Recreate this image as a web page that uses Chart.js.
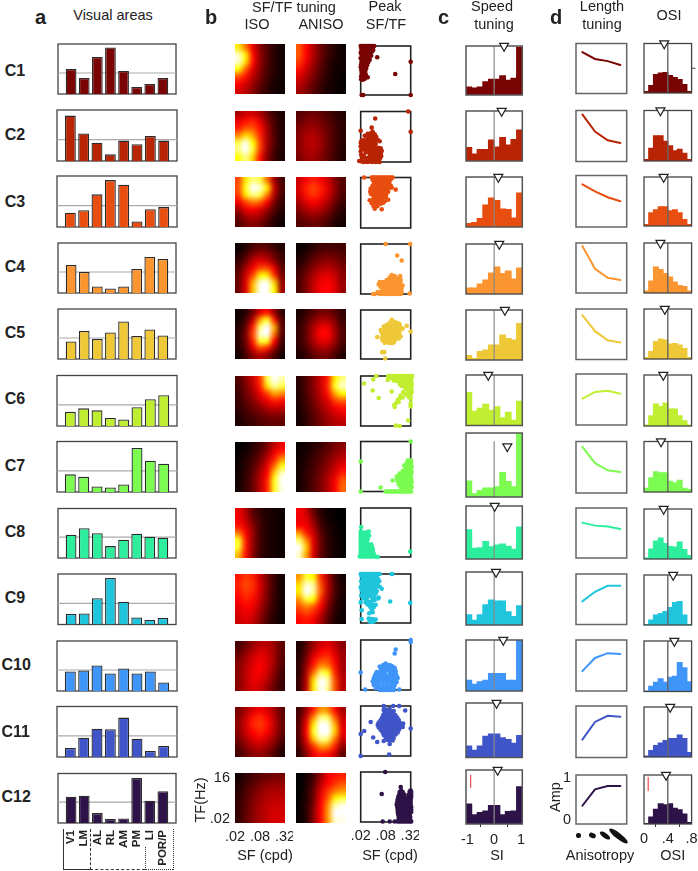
<!DOCTYPE html>
<html>
<head>
<meta charset="utf-8">
<title>Clusters</title>
<script src="https://cdn.jsdelivr.net/npm/chart.js@4/dist/chart.umd.min.js"></script>
<style>
html, body { margin: 0; padding: 0; background: #fff; }
#page { position: relative; width: 698px; height: 871px; overflow: hidden; font-family: "Liberation Sans", Arial, sans-serif; color: #222; }
#page canvas { position: absolute; }
.txt { position: absolute; white-space: nowrap; transform: translate(-50%, -50%); }
.mark { position: absolute; box-sizing: border-box; }
</style>
</head>
<body>
<div id="page"></div>
<script>
// ---- data ----
var clusterNames = ['C1','C2','C3','C4','C5','C6','C7','C8','C9','C10','C11','C12'];
var clusterColors = ['#7a0404','#b82404','#e84e10','#fb9530','#efc838','#c0ee30','#7cfb50','#2cee9c','#1fc5dc','#3f95f8','#4055c8','#2e1348'];

// a: share per visual area
var areaLabels = ['V1','LM','AL','RL','AM','PM','LI','POR/P'];
var areaMean = 0.42;
var areaC1 = [.50,.32,.74,.93,.46,.14,.20,.32];
var areaC2 = [.89,.54,.36,.13,.40,.33,.49,.40];
var areaC3 = [.28,.33,.64,.92,.83,.11,.35,.39];
var areaC4 = [.56,.42,.13,.09,.13,.48,.72,.68];
var areaC5 = [.35,.56,.40,.53,.75,.46,.59,.47];
var areaC6 = [.28,.35,.31,.16,.13,.37,.53,.61];
var areaC7 = [.35,.30,.11,.09,.15,.87,.62,.56];
var areaC8 = [.47,.60,.50,.24,.37,.49,.43,.41];
var areaC9 = [.21,.22,.52,.92,.45,.14,.09,.13];
var areaC10 = [.39,.41,.51,.35,.45,.35,.39,.17];
var areaC11 = [.18,.38,.56,.55,.78,.36,.12,.22];
var areaC12 = [.53,.55,.20,.08,.09,.91,.45,.64];
var areaValues = [areaC1,areaC2,areaC3,areaC4,areaC5,areaC6,areaC7,areaC8,areaC9,areaC10,areaC11,areaC12];

// b: SF/TF response grids (rows top to bottom), 0..1 on the hot colour map
var isoC1 = [[.72,.55,.35,.2,.12,.06,.03],[.95,.72,.4,.22,.12,.06,.03],[.95,.7,.4,.22,.12,.06,.03],[.75,.52,.33,.2,.11,.06,.03],[.5,.4,.28,.18,.1,.05,.03],[.38,.32,.23,.15,.08,.04,.02],[.32,.27,.2,.12,.07,.03,.02]];
var anisoC1 = [[.5,.38,.26,.16,.1,.05,.02],[.5,.38,.26,.16,.09,.05,.02],[.46,.35,.24,.15,.08,.04,.02],[.4,.3,.21,.13,.07,.03,.02],[.33,.26,.18,.11,.06,.03,.01],[.28,.22,.15,.09,.05,.02,.01],[.24,.19,.13,.08,.04,.02,.01]];
var isoC2 = [[.25,.3,.3,.25,.16,.08,.04],[.35,.4,.42,.34,.2,.1,.05],[.42,.5,.5,.4,.24,.11,.05],[.58,.7,.62,.43,.25,.12,.05],[.82,.98,.75,.47,.25,.12,.05],[.88,1,.8,.47,.23,.1,.05],[.76,.88,.68,.4,.2,.09,.04]];
var anisoC2 = [[.12,.15,.16,.14,.11,.08,.05],[.15,.19,.2,.17,.13,.09,.06],[.18,.22,.23,.2,.15,.1,.06],[.2,.25,.26,.22,.16,.1,.06],[.2,.26,.27,.23,.16,.1,.06],[.2,.25,.26,.22,.15,.1,.05],[.18,.23,.24,.2,.14,.09,.05]];
var isoC3 = [[.48,.72,.88,.82,.55,.24,.1],[.5,.78,1,.95,.72,.3,.12],[.46,.72,.88,.82,.56,.26,.1],[.36,.48,.56,.52,.38,.18,.08],[.24,.35,.38,.33,.24,.13,.06],[.16,.24,.27,.24,.16,.08,.04],[.12,.17,.2,.17,.11,.05,.02]];
var anisoC3 = [[.3,.38,.42,.38,.3,.2,.12],[.32,.42,.47,.42,.33,.22,.13],[.3,.4,.45,.4,.31,.2,.11],[.25,.33,.37,.33,.26,.16,.09],[.2,.26,.29,.26,.2,.12,.06],[.15,.19,.21,.19,.14,.08,.04],[.12,.14,.16,.14,.1,.05,.03]];
var isoC4 = [[.02,.05,.1,.13,.12,.08,.05],[.04,.1,.18,.22,.2,.14,.08],[.08,.16,.28,.33,.3,.2,.1],[.12,.24,.36,.48,.48,.34,.14],[.15,.3,.48,.72,.72,.45,.18],[.16,.33,.62,.95,.98,.68,.22],[.16,.33,.66,.98,1,.75,.24]];
var anisoC4 = [[.01,.03,.06,.09,.1,.1,.09],[.03,.06,.1,.14,.15,.14,.12],[.05,.09,.15,.19,.21,.19,.15],[.08,.13,.2,.25,.27,.24,.18],[.1,.17,.25,.31,.33,.29,.2],[.11,.19,.28,.35,.37,.32,.22],[.11,.19,.29,.36,.38,.33,.23]];
var isoC5 = [[.02,.06,.16,.32,.4,.22,.07],[.03,.1,.28,.6,.78,.42,.12],[.05,.15,.42,.85,1,.62,.14],[.06,.18,.48,.95,1,.55,.13],[.06,.17,.42,.8,.78,.38,.1],[.05,.14,.32,.48,.42,.22,.07],[.03,.1,.2,.26,.2,.11,.03]];
var anisoC5 = [[.04,.08,.13,.17,.17,.13,.07],[.06,.11,.19,.25,.25,.18,.09],[.07,.14,.25,.34,.34,.23,.11],[.08,.15,.27,.38,.38,.25,.12],[.08,.14,.25,.33,.33,.23,.11],[.06,.11,.19,.25,.24,.17,.08],[.04,.08,.13,.17,.16,.11,.05]];
var isoC6 = [[.12,.2,.3,.45,.82,1,.92],[.1,.18,.27,.42,.7,.9,.82],[.09,.16,.24,.35,.48,.62,.58],[.08,.14,.2,.28,.36,.42,.4],[.07,.11,.16,.2,.26,.3,.28],[.05,.09,.12,.15,.18,.2,.19],[.04,.07,.09,.12,.14,.15,.14]];
var anisoC6 = [[.06,.12,.2,.3,.42,.72,.88],[.06,.12,.2,.3,.44,.78,.95],[.05,.11,.19,.28,.4,.62,.75],[.05,.1,.17,.25,.33,.47,.52],[.04,.09,.15,.22,.29,.36,.4],[.03,.08,.13,.19,.25,.3,.33],[.03,.07,.12,.17,.22,.26,.28]];
var isoC7 = [[0,.02,.05,.1,.17,.27,.35],[.01,.03,.07,.13,.22,.35,.42],[.02,.05,.1,.17,.28,.42,.6],[.02,.06,.12,.21,.34,.55,.78],[.03,.07,.14,.25,.38,.68,.95],[.03,.08,.15,.27,.42,.78,1],[.03,.08,.15,.27,.42,.78,.98]];
var anisoC7 = [[.01,.03,.05,.08,.12,.17,.2],[.02,.04,.07,.11,.15,.2,.24],[.02,.05,.09,.13,.18,.24,.29],[.03,.06,.1,.15,.21,.28,.35],[.03,.07,.11,.17,.24,.32,.42],[.03,.07,.12,.18,.26,.36,.5],[.03,.07,.12,.18,.26,.37,.52]];
var isoC8 = [[.35,.26,.13,.07,.04,.03,.02],[.36,.28,.16,.09,.05,.03,.02],[.4,.33,.2,.1,.05,.03,.02],[.55,.38,.22,.1,.05,.03,.02],[.78,.42,.22,.1,.05,.03,.02],[.8,.42,.22,.1,.05,.03,.02],[.65,.4,.2,.09,.05,.03,.02]];
var anisoC8 = [[.37,.3,.15,.06,.02,.01,0],[.35,.33,.2,.08,.03,.01,0],[.38,.36,.25,.11,.05,.02,0],[.6,.42,.3,.14,.06,.02,.01],[.85,.58,.33,.16,.07,.03,.01],[1,.68,.33,.16,.07,.03,.01],[.95,.62,.32,.15,.07,.03,.01]];
var isoC9 = [[.4,.46,.42,.3,.18,.08,.03],[.42,.48,.44,.32,.19,.09,.03],[.4,.46,.42,.31,.18,.08,.03],[.37,.42,.39,.29,.17,.08,.03],[.34,.38,.35,.26,.15,.07,.03],[.32,.35,.32,.23,.13,.06,.02],[.3,.32,.29,.2,.11,.05,.02]];
var anisoC9 = [[.6,.8,.75,.45,.26,.1,.03],[.7,.95,.9,.5,.28,.11,.04],[.72,1,.9,.52,.27,.11,.04],[.6,.82,.75,.45,.24,.1,.03],[.5,.58,.52,.38,.2,.08,.03],[.42,.47,.42,.3,.16,.06,.02],[.38,.4,.36,.25,.13,.05,.02]];
var isoC10 = [[.1,.15,.22,.26,.27,.22,.14],[.14,.2,.27,.32,.3,.23,.14],[.18,.24,.31,.35,.32,.24,.13],[.2,.26,.33,.37,.32,.22,.12],[.2,.27,.35,.36,.3,.2,.1],[.2,.28,.34,.33,.27,.17,.09],[.2,.27,.32,.3,.23,.15,.08]];
var anisoC10 = [[.04,.12,.22,.3,.33,.28,.2],[.05,.14,.28,.37,.4,.32,.22],[.06,.18,.35,.45,.47,.36,.24],[.07,.22,.42,.58,.56,.4,.24],[.07,.25,.55,.85,.78,.44,.26],[.08,.27,.7,1,.92,.5,.27],[.08,.28,.72,1,.9,.5,.27]];
var isoC11 = [[.18,.25,.32,.36,.32,.24,.14],[.2,.29,.4,.44,.38,.27,.15],[.21,.31,.42,.46,.4,.28,.16],[.2,.3,.38,.42,.37,.26,.15],[.17,.25,.32,.35,.3,.22,.12],[.13,.2,.26,.28,.24,.17,.08],[.1,.15,.2,.22,.18,.12,.05]];
var anisoC11 = [[.1,.24,.42,.6,.58,.4,.25],[.12,.3,.58,.88,.85,.52,.3],[.13,.35,.72,1,.98,.65,.33],[.13,.38,.78,1,1,.68,.35],[.12,.33,.65,.9,.85,.55,.3],[.1,.27,.45,.6,.58,.42,.22],[.07,.2,.35,.42,.4,.3,.14]];
var isoC12 = [[.03,.07,.1,.13,.15,.17,.18],[.05,.09,.13,.17,.2,.22,.22],[.06,.11,.16,.2,.24,.25,.25],[.07,.12,.18,.23,.26,.28,.28],[.08,.13,.19,.24,.28,.3,.3],[.08,.14,.2,.25,.29,.31,.31],[.08,.14,.2,.25,.29,.32,.32]];
var anisoC12 = [[0,.03,.1,.22,.35,.4,.42],[0,.04,.12,.27,.38,.45,.5],[0,.05,.15,.32,.45,.55,.6],[0,.05,.16,.35,.5,.72,.8],[.01,.06,.18,.37,.58,.9,.98],[.01,.06,.2,.38,.6,1,1],[.01,.06,.2,.38,.6,.95,.98]];
var isoGrids = [isoC1,isoC2,isoC3,isoC4,isoC5,isoC6,isoC7,isoC8,isoC9,isoC10,isoC11,isoC12];
var anisoGrids = [anisoC1,anisoC2,anisoC3,anisoC4,anisoC5,anisoC6,anisoC7,anisoC8,anisoC9,anisoC10,anisoC11,anisoC12];
var sfTickLabels = ['.02','.08','.32'];
var tfTickLabels = ['.02','16'];

// b: peak SF/TF per unit, percent of the log axis
var peakC1 = [[0,100],[3,100],[6,100],[9,100],[12,100],[15,100],[18,100],[21,100],[24,100],[27,100],[1,96],[5,95],[9,96],[13,94],[17,95],[20,96],[25,92],[2,91],[7,90],[11,89],[15,90],[19,88],[23,89],[0,86],[4,85],[9,84],[14,85],[18,83],[2,80],[6,79],[11,78],[16,79],[21,80],[33,77],[0,75],[4,74],[8,73],[13,72],[18,72],[2,69],[6,68],[10,66],[15,67],[1,63],[5,62],[9,61],[13,61],[0,57],[4,56],[8,55],[11,54],[1,51],[5,50],[9,48],[2,45],[6,43],[10,42],[1,38],[5,37],[9,38],[14,36],[1,32],[4,31],[8,33],[69,43],[100,68],[2,0],[5,0],[100,0]];
var peakC2 = [[29,86],[95,100],[100,60],[0,62],[22,68],[24,60],[20,57],[28,55],[14,56],[8,52],[18,52],[25,51],[31,50],[14,48],[21,47],[27,46],[38,41],[2,43],[7,43],[12,42],[17,42],[23,42],[29,41],[34,44],[0,38],[5,37],[10,37],[15,36],[20,37],[25,36],[30,36],[0,31],[6,32],[12,31],[18,30],[24,31],[29,30],[35,28],[40,27],[2,26],[8,25],[14,26],[20,25],[26,24],[32,24],[38,23],[42,22],[0,21],[10,19],[16,20],[22,19],[28,19],[34,18],[40,18],[1,14],[6,13],[18,14],[24,13],[30,14],[36,13],[41,12],[3,8],[10,8],[16,8],[22,7],[28,8],[34,7],[39,8],[-3,2],[2,1],[6,0],[10,1],[14,0],[18,2],[22,0],[26,1],[30,0],[34,1],[38,0]];
var peakC3 = [[7,100],[22,100],[25,100],[28,100],[31,100],[34,100],[37,100],[40,100],[43,100],[46,100],[49,100],[52,100],[55,100],[58,100],[61,100],[64,100],[24,95],[30,94],[36,95],[42,94],[48,95],[54,94],[60,96],[27,90],[33,89],[39,90],[45,88],[51,89],[57,90],[24,84],[30,84],[36,84],[42,83],[48,84],[54,84],[60,84],[20,78],[26,78],[32,78],[38,78],[44,78],[50,78],[56,79],[62,80],[70,76],[19,72],[25,72],[31,72],[37,72],[43,72],[49,72],[55,72],[21,67],[27,66],[33,66],[39,66],[45,66],[51,66],[26,60],[32,60],[38,60],[44,60],[50,61],[18,55],[24,55],[30,54],[36,54],[42,55],[48,53],[55,56],[22,49],[28,49],[34,48],[40,48],[45,50],[26,43],[33,43],[28,38],[42,37]];
var peakC4 = [[50,100],[99,100],[73,77],[82,67],[62,38],[68,36],[79,36],[58,33],[64,32],[70,33],[76,31],[52,28],[56,28],[62,27],[68,27],[74,27],[80,28],[38,24],[44,24],[50,24],[56,23],[62,22],[68,23],[74,22],[79,23],[36,19],[42,19],[48,18],[54,18],[60,18],[66,18],[72,18],[78,18],[84,17],[40,14],[46,13],[52,13],[58,13],[64,13],[70,13],[76,13],[82,12],[44,8],[50,8],[56,8],[62,8],[68,8],[74,8],[80,9],[34,4],[40,4],[46,3],[52,3],[58,3],[64,3],[70,4],[76,4],[82,4],[28,0],[25,0],[38,0],[44,0],[50,0],[56,0],[62,0],[68,0],[74,0],[80,0],[98,1]];
var peakC5 = [[49,1],[43,14],[47,14],[92,68],[100,56],[33,45],[62,80],[67,76],[58,74],[72,74],[77,72],[52,70],[60,69],[66,69],[72,68],[78,69],[46,66],[54,64],[60,64],[66,63],[72,63],[78,64],[84,62],[40,59],[48,59],[54,58],[60,58],[66,58],[72,58],[78,57],[42,54],[48,53],[54,53],[60,53],[66,53],[72,52],[77,52],[44,48],[50,48],[56,48],[62,48],[68,48],[74,47],[80,46],[42,43],[48,43],[54,43],[60,42],[66,43],[72,43],[76,42],[44,38],[50,38],[56,37],[62,37],[68,38],[48,33],[56,33],[62,32],[66,34]];
var peakC6 = [[7,85],[25,93],[31,100],[24,71],[36,56],[62,69],[67,42],[68,38],[70,1],[78,0],[95,11],[100,42],[100,46],[100,39],[55,100],[58,100],[61,100],[64,100],[67,100],[70,100],[73,100],[76,100],[79,100],[82,100],[85,100],[88,100],[91,100],[94,100],[97,100],[100,100],[103,100],[55,95],[62,96],[70,95],[78,96],[84,94],[90,96],[96,95],[101,95],[54,92],[66,91],[72,90],[76,90],[82,89],[88,90],[95,90],[101,90],[78,84],[86,85],[92,85],[97,84],[102,85],[82,80],[88,79],[93,79],[98,79],[102,80],[90,74],[96,73],[101,74],[85,68],[90,63],[80,61],[84,57],[78,56],[74,52],[96,58],[100,55],[71,46],[76,48],[102,68],[100,62],[95,67]];
var peakC7 = [[100,100],[0,60],[0,0],[40,8],[64,22],[94,62],[98,62],[101,62],[92,57],[97,56],[101,56],[87,52],[93,51],[98,51],[102,50],[90,46],[95,45],[100,45],[84,41],[88,41],[94,40],[99,40],[102,40],[78,36],[84,35],[90,35],[96,35],[101,35],[72,30],[76,30],[82,30],[88,30],[94,30],[100,30],[73,25],[78,24],[84,25],[90,25],[96,25],[101,25],[74,20],[80,19],[86,20],[92,19],[98,20],[102,19],[76,14],[82,14],[88,14],[94,14],[100,14],[80,9],[86,9],[92,9],[98,9],[102,9],[86,4],[92,4],[98,4],[50,0],[53,0],[56,0],[59,0],[62,0],[65,0],[68,0],[71,0],[74,0],[77,0],[80,0],[83,0],[86,0],[89,0],[92,0],[95,0],[98,0],[101,0]];
var peakC8 = [[1,61],[99,11],[0,52],[5,50],[11,50],[16,52],[0,47],[4,46],[9,46],[14,46],[17,44],[0,42],[4,42],[8,41],[13,41],[0,37],[4,37],[9,36],[14,36],[0,32],[4,32],[8,31],[12,32],[0,27],[5,27],[10,26],[15,26],[21,26],[0,22],[5,22],[10,21],[15,21],[22,22],[0,17],[5,17],[10,17],[15,16],[20,17],[24,17],[0,12],[5,12],[10,12],[15,12],[20,12],[24,12],[0,7],[5,7],[10,7],[15,7],[20,7],[26,7],[-2,1],[2,1],[6,1],[10,1],[14,1],[18,1],[22,1],[26,1],[30,1],[34,0]];
var peakC9 = [[62,100],[63,100],[99,41],[59,44],[0,100],[3,100],[6,100],[9,100],[12,100],[15,100],[18,100],[21,100],[24,100],[27,100],[30,100],[33,100],[38,100],[2,95],[8,95],[14,94],[20,95],[26,94],[32,95],[5,90],[11,90],[17,90],[23,89],[29,90],[35,89],[1,85],[7,85],[13,84],[19,84],[25,85],[31,84],[37,85],[3,79],[9,79],[15,79],[21,78],[27,79],[33,78],[0,73],[6,73],[12,73],[18,73],[24,72],[30,73],[38,74],[42,70],[2,67],[8,67],[14,67],[20,66],[26,67],[32,65],[4,61],[10,61],[16,60],[22,60],[30,60],[35,50],[1,56],[7,55],[13,54],[20,54],[27,54],[36,52],[5,50],[12,48],[24,48],[28,47],[0,42],[10,42],[18,43],[21,41],[14,38],[24,37],[30,37],[19,33],[26,32],[2,26],[22,27],[17,20],[24,22],[2,8],[16,9],[20,8],[24,8],[18,3],[22,2],[26,3],[30,7]];
var peakC10 = [[100,96],[100,100],[70,81],[68,73],[0,35],[9,1],[77,1],[50,53],[45,50],[52,49],[58,50],[62,48],[66,45],[30,32],[38,47],[44,45],[50,44],[56,44],[62,44],[68,44],[32,36],[40,40],[46,40],[52,39],[58,40],[64,39],[70,38],[28,28],[36,34],[42,34],[48,34],[58,34],[64,33],[70,33],[26,23],[34,28],[40,28],[46,28],[52,28],[60,28],[66,28],[72,28],[30,22],[36,22],[42,22],[50,22],[56,22],[62,22],[68,22],[74,24],[24,17],[30,16],[36,16],[44,17],[52,16],[60,16],[66,16],[72,16],[26,10],[32,10],[38,10],[46,10],[54,10],[62,10],[68,10],[30,4],[36,4],[42,3],[48,4],[54,3],[60,4],[66,4],[38,0],[42,0],[46,0],[50,0],[54,0],[58,0],[62,0],[66,0]];
var peakC11 = [[0,0],[57,3],[58,24],[25,37],[33,28],[46,30],[0,44],[7,50],[20,68],[100,55],[89,91],[77,100],[65,100],[46,100],[85,65],[46,92],[52,93],[58,94],[48,87],[54,88],[60,88],[66,90],[45,82],[51,82],[57,83],[63,83],[69,82],[43,77],[49,77],[55,77],[61,77],[67,77],[73,77],[40,72],[46,72],[52,72],[58,72],[64,72],[70,72],[76,72],[36,67],[42,67],[48,67],[54,67],[60,67],[66,67],[72,67],[78,67],[34,62],[40,62],[46,62],[52,62],[58,62],[64,61],[70,62],[76,62],[82,60],[36,57],[42,57],[48,57],[54,57],[60,57],[66,57],[72,57],[78,56],[84,58],[40,52],[46,52],[52,52],[58,52],[64,52],[70,52],[76,52],[44,47],[50,47],[56,47],[62,47],[68,47],[74,47],[46,42],[52,42],[58,42],[64,42],[70,43],[50,37],[56,37],[62,37],[66,36],[54,32],[60,32],[64,31]];
var peakC12 = [[49,100],[42,56],[44,1],[58,1],[68,1],[80,70],[100,63],[81,63],[78,60],[84,60],[98,61],[101,60],[77,55],[82,55],[87,55],[96,55],[101,55],[75,50],[80,50],[85,50],[90,49],[96,50],[101,50],[74,45],[79,45],[84,45],[89,44],[95,45],[100,45],[73,40],[78,40],[83,40],[88,40],[94,40],[100,40],[72,35],[77,35],[82,35],[88,35],[94,35],[100,35],[73,30],[78,30],[83,30],[89,30],[95,30],[101,30],[74,25],[79,25],[84,25],[90,25],[96,25],[101,25],[74,20],[79,20],[85,20],[91,20],[97,20],[101,20],[75,15],[80,15],[86,15],[92,15],[98,15],[76,10],[81,10],[87,10],[93,10],[99,10],[76,5],[81,5],[87,5],[93,5],[99,5],[74,1],[78,1],[82,1],[86,1],[90,1],[94,1],[98,1],[101,1]];
var peakValues = [peakC1,peakC2,peakC3,peakC4,peakC5,peakC6,peakC7,peakC8,peakC9,peakC10,peakC11,peakC12];

// c: speed tuning histograms
var speedBins = [-.945,-.735,-.525,-.315,-.105,.105,.315,.525,.735,.945];
var speedTicks = [-1,0,1];
var speedC1 = [.16,.14,.16,.27,.32,.32,.39,.30,.34,.97];
var speedC2 = [.27,.14,.23,.23,.42,.28,.47,.32,.43,.62];
var speedC3 = [.07,.09,.17,.44,.58,.53,.36,.35,.18,.68];
var speedC4 = [.12,.12,.20,.28,.42,.54,.41,.46,.30,.52];
var speedC5 = [.09,.03,.17,.20,.30,.30,.50,.43,.40,.73];
var speedC6 = [.65,.28,.34,.42,.30,.37,.15,.26,.10,.48];
var speedC7 = [.25,.05,.10,.14,.14,.16,.38,.24,.16,1.0];
var speedC8 = [.55,.20,.21,.33,.23,.26,.28,.24,.18,.60];
var speedC9 = [.19,.09,.19,.38,.47,.45,.45,.25,.16,.36];
var speedC10 = [.21,.13,.18,.21,.34,.34,.34,.21,.21,1.0];
var speedC11 = [.21,.13,.21,.39,.43,.43,.36,.33,.26,.40];
var speedC12 = [.37,.17,.21,.24,.34,.34,.17,.23,.24,.69];
var speedValues = [speedC1,speedC2,speedC3,speedC4,speedC5,speedC6,speedC7,speedC8,speedC9,speedC10,speedC11,speedC12];
var speedMean = [.37,.28,.155,.19,.40,-.22,.49,.02,.07,.34,.09,.13];
var speedMeanLevel = [1,1,1,1,1,1,.79,1,1,1,1,1];
var speedZeroTop = [1,1,1,1,1,1,.87,1,1,1,1,1];
var speedScaleBarX = -.875, speedScaleBarY = [.67,.91];

// d: length tuning, amplitude at four anisotropy levels
var anisotropyLevels = ['1','2','3','4'];
var ampC1 = [.87,.71,.66,.57];
var ampC2 = [.98,.59,.39,.33];
var ampC3 = [.87,.71,.58,.49];
var ampC4 = [1.0,.47,.26,.21];
var ampC5 = [.93,.56,.35,.30];
var ampC6 = [.51,.66,.69,.62];
var ampC7 = [.95,.58,.42,.38];
var ampC8 = [.73,.66,.64,.58];
var ampC9 = [.44,.66,.80,.80];
var ampC10 = [.36,.66,.77,.75];
var ampC11 = [.31,.71,.85,.83];
var ampC12 = [.34,.73,.81,.81];
var ampValues = [ampC1,ampC2,ampC3,ampC4,ampC5,ampC6,ampC7,ampC8,ampC9,ampC10,ampC11,ampC12];
var ampTicks = [0,1];

// d: OSI histograms
var osiBins = [.04,.12,.20,.28,.36,.44,.52,.60,.68,.76];
var osiTicks = [0,.4,.8];
var osiTickLabels = ['0','.4','.8'];
var osiC1 = [.03,.15,.37,.40,.41,.35,.31,.27,.17,.03];
var osiC2 = [.03,.25,.50,.50,.39,.30,.20,.23,.15,.03];
var osiC3 = [.03,.27,.33,.39,.39,.31,.33,.27,.13,.03];
var osiC4 = [.04,.24,.52,.47,.39,.32,.22,.15,.13,.04];
var osiC5 = [.03,.15,.35,.40,.38,.30,.31,.28,.21,.03];
var osiC6 = [.02,.20,.43,.38,.45,.33,.33,.20,.10,.02];
var osiC7 = [.07,.28,.40,.38,.38,.21,.18,.23,.07,.05];
var osiC8 = [.02,.20,.36,.42,.31,.25,.24,.34,.19,.07];
var osiC9 = [.01,.10,.20,.23,.27,.35,.45,.47,.20,.01];
var osiC10 = [.01,.10,.18,.25,.18,.28,.30,.57,.47,.19];
var osiC11 = [.02,.13,.23,.28,.33,.37,.37,.44,.37,.09];
var osiC12 = [.01,.14,.30,.41,.39,.41,.32,.29,.20,.03];
var osiValues = [osiC1,osiC2,osiC3,osiC4,osiC5,osiC6,osiC7,osiC8,osiC9,osiC10,osiC11,osiC12];
var osiMean = [.34,.276,.33,.276,.35,.324,.286,.33,.49,.51,.44,.37];
var osiScaleBarX = .07, osiScaleBarY = [.67,.96];

// ---- layout: [x, y, w, h] of each panel frame ----
var areaBoxes = [[58,44,118,50],[57,110,120,51],[57,176,120,51],[58,243,118,50],[58,309,118,50],[57,375.5,120,50.5],[57,441.5,120,50.5],[58,508.5,118,49.5],[58,574,118,50.5],[57,641,120,50],[57,706.5,120,50.5],[58,773.5,118,49.5]];
var heatTops = [44,110.5,177,243,309,375.5,441.5,508,574,641,707,773];
var peakRows = [[46,49],[111.5,50.5],[177.5,50.5],[244,50],[310,49],[376,50],[441.5,50],[508,49],[574,49],[640,50],[706,50],[772,50]];
var speedRows = [[46,49],[111,50],[177,50],[244,50],[310,50],[375,50.5],[433,64],[506,53],[572,53],[640,51],[703,54.5],[770,54]];
var lengthRows = [[43.5,50],[110.5,51],[175.5,51.5],[243,50],[309,50.5],[374,51],[441.5,51.5],[508,50],[574,50.5],[640,51],[706,51.5],[775,49]];
var osiRows = [[43.5,49.5],[110.5,50.5],[177,49],[243,50],[309,50],[375,51],[441.5,50.5],[509,50],[575,50],[641,50.5],[707,50],[775,49]];

Chart.defaults.font.family = '"Liberation Sans", Arial, sans-serif';
Chart.defaults.font.size = 14.5;
Chart.defaults.color = '#222';
Chart.defaults.animation = false;
Chart.defaults.plugins.legend.display = false;
Chart.defaults.plugins.tooltip.enabled = false;

var page = document.getElementById('page');

function hotColor(v) {
    var r = Math.min(1, v / .375);
    var g = Math.max(0, Math.min(1, (v - .375) / .375));
    var b = Math.max(0, Math.min(1, (v - .75) / .25));
    return [r * 255, g * 255, b * 255];
}

function drawFrame(chart, opts) {
    var a = chart.chartArea, ctx = chart.ctx;
    ctx.save();
    ctx.strokeStyle = opts.color;
    ctx.lineWidth = opts.width || 1.3;
    ctx.strokeRect(a.left, a.top, a.right - a.left, a.bottom - a.top);
    ctx.restore();
}

// frame round the plot area, below the marks or just before one dataset
Chart.register({
    id: 'frame',
    beforeDatasetsDraw: function (chart, args, opts) {
        if (opts.color && opts.beforeIndex === undefined) drawFrame(chart, opts);
    },
    beforeDatasetDraw: function (chart, args, opts) {
        if (opts.color && opts.beforeIndex === args.index) drawFrame(chart, opts);
    }
});

// SF/TF grid: one pixel per cell, stretched over the scales with smoothing
Chart.register({
    id: 'hotGrid',
    beforeDatasetsDraw: function (chart) {
        if (chart.config.options.plugins.hotGrid !== true) return;
        var cells = chart.data.datasets[0].data;
        var small = document.createElement('canvas');
        small.width = 7; small.height = 7;
        var sctx = small.getContext('2d');
        var img = sctx.createImageData(7, 7);
        cells.forEach(function (c) {
            var i = ((6 - c.y) * 7 + c.x) * 4, rgb = hotColor(c.v);
            img.data[i] = rgb[0]; img.data[i + 1] = rgb[1]; img.data[i + 2] = rgb[2]; img.data[i + 3] = 255;
        });
        sctx.putImageData(img, 0, 0);
        var xs = chart.scales.x, ys = chart.scales.y;
        var x0 = xs.getPixelForValue(-.5), x1 = xs.getPixelForValue(6.5);
        var y0 = ys.getPixelForValue(6.5), y1 = ys.getPixelForValue(-.5);
        chart.ctx.save();
        chart.ctx.imageSmoothingEnabled = true;
        chart.ctx.imageSmoothingQuality = 'high';
        chart.ctx.drawImage(small, x0, y0, x1 - x0, y1 - y0);
        chart.ctx.restore();
    }
});

// canvas bigger than the frame so points and markers can hang over it
function makeCanvas(box, extra) {
    extra = extra || {};
    var m = { l: extra.l || 8, r: extra.r || 8, t: extra.t || 8, b: extra.b || 8 };
    var left = Math.floor(box[0] - m.l), top = Math.floor(box[1] - m.t);
    var width = Math.ceil(box[0] + box[2] + m.r) - left, height = Math.ceil(box[1] + box[3] + m.b) - top;
    var c = document.createElement('canvas');
    c.width = width; c.height = height;
    c.style.left = left + 'px'; c.style.top = top + 'px';
    c.style.width = width + 'px'; c.style.height = height + 'px';
    page.appendChild(c);
    return {
        ctx: c,
        padding: {
            left: box[0] - left - (extra.yAxis || 0),
            top: box[1] - top,
            right: left + width - box[0] - box[2],
            bottom: top + height - box[1] - box[3] - (extra.xAxis || 0)
        }
    };
}

function hiddenAxis(min, max) {
    return { type: 'linear', display: false, min: min, max: max, offset: false };
}

function tickAxis(min, max, values, labels, size, pad, marks) {
    return {
        type: 'linear', display: true, min: min, max: max, offset: false,
        grid: marks ? { display: true, drawOnChartArea: false, drawTicks: true, tickLength: 3, color: '#333', lineWidth: 1 } : { display: false, drawTicks: false },
        border: { display: false },
        ticks: {
            padding: pad, autoSkip: false, maxRotation: 0, minRotation: 0,
            callback: function (v, i) { return labels[i]; }
        },
        afterBuildTicks: function (s) { s.ticks = values.map(function (v) { return { value: v }; }); },
        afterFit: function (s) {
            if (s.isHorizontal()) s.height = size; else s.width = size;
            s.paddingLeft = 0; s.paddingRight = 0; s.paddingTop = 0; s.paddingBottom = 0;
        }
    };
}

function baseOptions(padding, scales, plugins) {
    return { responsive: false, events: [], layout: { padding: padding }, scales: scales, plugins: plugins };
}

// a: bars per visual area, one blank slot either side gives the outer gap
function drawArea(i) {
    var last = i === 11;
    var place = makeCanvas(areaBoxes[i], last ? { b: 52, xAxis: 44 } : null);
    var labels = [''].concat(areaLabels, ['']);
    var xAxis = { type: 'category', display: false, offset: false };
    if (last) {
        xAxis = {
            type: 'category', display: true, offset: false,
            grid: { display: false, drawTicks: false }, border: { display: false },
            ticks: { autoSkip: false, minRotation: 90, maxRotation: 90, padding: 7, font: { size: 11.5, weight: 'bold' } },
            afterFit: function (s) { s.height = 44; s.paddingLeft = 0; s.paddingRight = 0; }
        };
    }
    new Chart(place.ctx, {
        type: 'bar',
        data: {
            labels: labels,
            datasets: [
                { type: 'bar', order: 1, data: [null].concat(areaValues[i], [null]), backgroundColor: clusterColors[i], borderColor: '#2b2b2b', borderWidth: 1.3, barPercentage: .82, categoryPercentage: 1, inflateAmount: 0 },
                { type: 'line', order: 2, data: labels.map(function () { return areaMean; }), borderColor: '#aaa', borderWidth: 1.2, pointRadius: 0 }
            ]
        },
        options: baseOptions(place.padding, { x: xAxis, y: hiddenAxis(0, 1) }, { frame: { color: '#444', width: 1.3 } })
    });
}

function drawHeat(i, grid, x, withAxes) {
    var box = [x, heatTops[i], 50, 50];
    var place = makeCanvas(box, withAxes ? { b: 30, xAxis: 22, l: 32, yAxis: 28 } : null);
    var cells = [];
    grid.forEach(function (row, r) {
        row.forEach(function (v, c) { cells.push({ x: c, y: 6 - r, v: v }); });
    });
    new Chart(place.ctx, {
        type: 'scatter',
        data: { datasets: [{ data: cells, pointRadius: 0 }] },
        options: baseOptions(place.padding, {
            x: withAxes ? tickAxis(-.5, 6.5, [-.5, 3, 6.5], sfTickLabels, 22, 5) : hiddenAxis(-.5, 6.5),
            y: withAxes ? tickAxis(-.5, 6.5, [.06, 5.8], tfTickLabels, 28, 5) : hiddenAxis(-.5, 6.5)
        }, { hotGrid: true })
    });
}

function drawPeak(i) {
    var last = i === 11;
    var box = [360.7, peakRows[i][0], 50, peakRows[i][1]];
    var place = makeCanvas(box, last ? { b: 30, xAxis: 22 } : null);
    new Chart(place.ctx, {
        type: 'scatter',
        data: {
            datasets: [{
                data: peakValues[i].map(function (p) { return { x: p[0], y: p[1] }; }),
                backgroundColor: clusterColors[i], borderWidth: 0, pointRadius: 2.3, clip: false
            }]
        },
        options: baseOptions(place.padding, {
            x: last ? tickAxis(0, 100, [0, 50, 100], sfTickLabels, 22, 5) : hiddenAxis(0, 100),
            y: hiddenAxis(0, 100)
        }, { frame: { color: '#222', width: 1.6 } })
    });
}

function xyPairs(xs, ys) {
    return xs.map(function (x, k) { return { x: x, y: ys[k] }; });
}

function meanMarker(x, y, order) {
    return { type: 'scatter', order: order, data: [{ x: x, y: y }], pointStyle: 'triangle', rotation: 180, pointRadius: 5.2, backgroundColor: '#fff', borderColor: '#222', borderWidth: 1.2, clip: false };
}

function drawSpeed(i) {
    var last = i === 11;
    var box = [466, speedRows[i][0], 56.3, speedRows[i][1]];
    var place = makeCanvas(box, last ? { b: 30, xAxis: 22 } : null);
    var sets = [
        { type: 'bar', order: 4, data: xyPairs(speedBins, speedValues[i]), backgroundColor: clusterColors[i], borderWidth: 0, barPercentage: 1, categoryPercentage: 1, inflateAmount: .6 },
        { type: 'line', order: 3, data: [{ x: 0, y: 0 }, { x: 0, y: speedZeroTop[i] }], borderColor: '#8a8a8a', borderWidth: 1.2, pointRadius: 0, clip: false },
        meanMarker(speedMean[i], speedMeanLevel[i], 1)
    ];
    if (last) sets.push({ type: 'line', order: 2, data: xyPairs([speedScaleBarX, speedScaleBarX], speedScaleBarY), borderColor: '#e8282c', borderWidth: 1, pointRadius: 0 });
    new Chart(place.ctx, {
        type: 'bar',
        data: { datasets: sets },
        options: baseOptions(place.padding, {
            x: last ? tickAxis(-1.05, 1.05, speedTicks, ['-1', '0', '1'], 22, 4, true) : hiddenAxis(-1.05, 1.05),
            y: hiddenAxis(0, 1)
        }, { frame: { color: '#555', width: 1.5, beforeIndex: 2 } })
    });
}

function drawLength(i) {
    var last = i === 11;
    var box = [576, lengthRows[i][0], 50.7, lengthRows[i][1]];
    var place = makeCanvas(box, last ? { l: 24, yAxis: 20 } : null);
    new Chart(place.ctx, {
        type: 'line',
        data: {
            labels: anisotropyLevels,
            datasets: [{ data: ampValues[i], borderColor: clusterColors[i], borderWidth: 2, pointRadius: 0, borderCapStyle: 'round' }]
        },
        options: baseOptions(place.padding, {
            x: { type: 'category', display: false, offset: true },
            y: last ? tickAxis(-.093, 1.07, ampTicks, ['0', '1'], 20, 5) : hiddenAxis(-.093, 1.07)
        }, { frame: { color: '#666', width: 1.5 } })
    });
}

function drawOsi(i) {
    var last = i === 11;
    var box = [644, osiRows[i][0], 49, osiRows[i][1]];
    var place = makeCanvas(box, last ? { b: 30, xAxis: 22, r: 5, l: 8 } : { r: 5 });
    var sets = [
        { type: 'bar', order: 4, data: xyPairs(osiBins, osiValues[i]), backgroundColor: clusterColors[i], borderWidth: 0, barPercentage: 1, categoryPercentage: 1, inflateAmount: .6 },
        { type: 'line', order: 3, data: [{ x: .4, y: 0 }, { x: .4, y: 1 }], borderColor: '#666', borderWidth: 1.4, pointRadius: 0 },
        meanMarker(osiMean[i], 1, 1)
    ];
    if (i === 0) sets.push({ type: 'line', order: 2, data: [{ x: .8, y: .5 }, { x: .865, y: .5 }], borderColor: '#444', borderWidth: 1, pointRadius: 0, clip: false });
    if (last) sets.push({ type: 'line', order: 2, data: xyPairs([osiScaleBarX, osiScaleBarX], osiScaleBarY), borderColor: '#e8282c', borderWidth: 1, pointRadius: 0 });
    new Chart(place.ctx, {
        type: 'bar',
        data: { datasets: sets },
        options: baseOptions(place.padding, {
            x: last ? tickAxis(0, .8, osiTicks, osiTickLabels, 22, 3, true) : hiddenAxis(0, .8),
            y: hiddenAxis(0, 1)
        }, { frame: { color: '#444', width: 1.3, beforeIndex: 2 } })
    });
}

function text(str, x, y, style, rotate) {
    var d = document.createElement('div');
    d.className = 'txt';
    d.textContent = str;
    d.style.left = x + 'px';
    d.style.top = y + 'px';
    d.style.font = style || '14.5px "Liberation Sans", Arial, sans-serif';
    if (rotate) d.style.transform = 'translate(-50%, -50%) rotate(' + rotate + 'deg)';
    page.appendChild(d);
}

for (var i = 0; i < 12; i++) {
    drawArea(i);
    drawHeat(i, isoGrids[i], 235, i === 11);
    drawHeat(i, anisoGrids[i], 295.5, false);
    drawPeak(i);
    drawSpeed(i);
    drawLength(i);
    drawOsi(i);
}

// letters, titles, row names
var bold20 = 'bold 20px "Liberation Sans", Arial, sans-serif';
text('a', 40.5, 17, bold20);
text('b', 211, 17, bold20);
text('c', 443.5, 17, bold20);
text('d', 556, 17, bold20);
text('Visual areas', 113, 15);
text('SF/TF tuning', 294, 6.5);
text('ISO', 257, 24);
text('ANISO', 321, 24);
text('Peak', 385, 6);
text('SF/TF', 386, 24);
text('Speed', 492, 6);
text('tuning', 494, 24);
text('Length', 602, 6);
text('tuning', 602, 24);
text('OSI', 669, 15);

var rowLabelY = [71,135,202,267,333,399,466,532,598,665,732,797];
clusterNames.forEach(function (name, k) {
    var d = document.createElement('div');
    d.className = 'txt';
    d.textContent = name;
    d.style.left = (k > 8 ? 1.5 : 4.7) + 'px';
    d.style.top = rowLabelY[k] + 'px';
    d.style.transform = 'translateY(-50%)';
    d.style.font = 'bold 16px "Liberation Sans", Arial, sans-serif';
    page.appendChild(d);
});

text('SF (cpd)', 265, 855);
text('SF (cpd)', 390, 855);
text('SI', 497, 855);
text('Anisotropy', 600, 855);
text('OSI', 672.7, 855);
text('TF(Hz)', 200, 800, null, -90);
text('Amp', 555, 797, null, -90);

// brackets under the area names
function rule(x, y, w, h, css) {
    var d = document.createElement('div');
    d.className = 'mark';
    d.style.cssText += 'left:' + x + 'px;top:' + y + 'px;width:' + w + 'px;height:' + h + 'px;' + css;
    page.appendChild(d);
}
rule(62.5, 829, 1, 41, 'border-left:1px solid #333');
rule(62.5, 869, 27.5, 1, 'border-top:1px solid #333');
rule(90, 829, 1, 41, 'border-left:1px dashed #333');
rule(90, 869, 55, 1, 'border-top:1px dashed #333');
rule(144.5, 847, 1, 23, 'border-left:1px dotted #333');
rule(144.5, 869, 28, 1, 'border-top:1px dotted #333');
rule(172.5, 829, 1, 41, 'border-left:1px dotted #333');

// anisotropy glyphs under the length tuning panel
function ellipse(x, y, w, h, deg) {
    rule(x - w / 2, y - h / 2, w, h, 'background:#111;border-radius:50%;transform:rotate(' + deg + 'deg)');
}
ellipse(578.5, 835.5, 4.5, 4.5, 0);
ellipse(592, 835.5, 7, 4.5, 25);
ellipse(605, 835.5, 12, 5, 35);
ellipse(618.5, 835.5, 23, 6, 38);
</script>
</body>
</html>
